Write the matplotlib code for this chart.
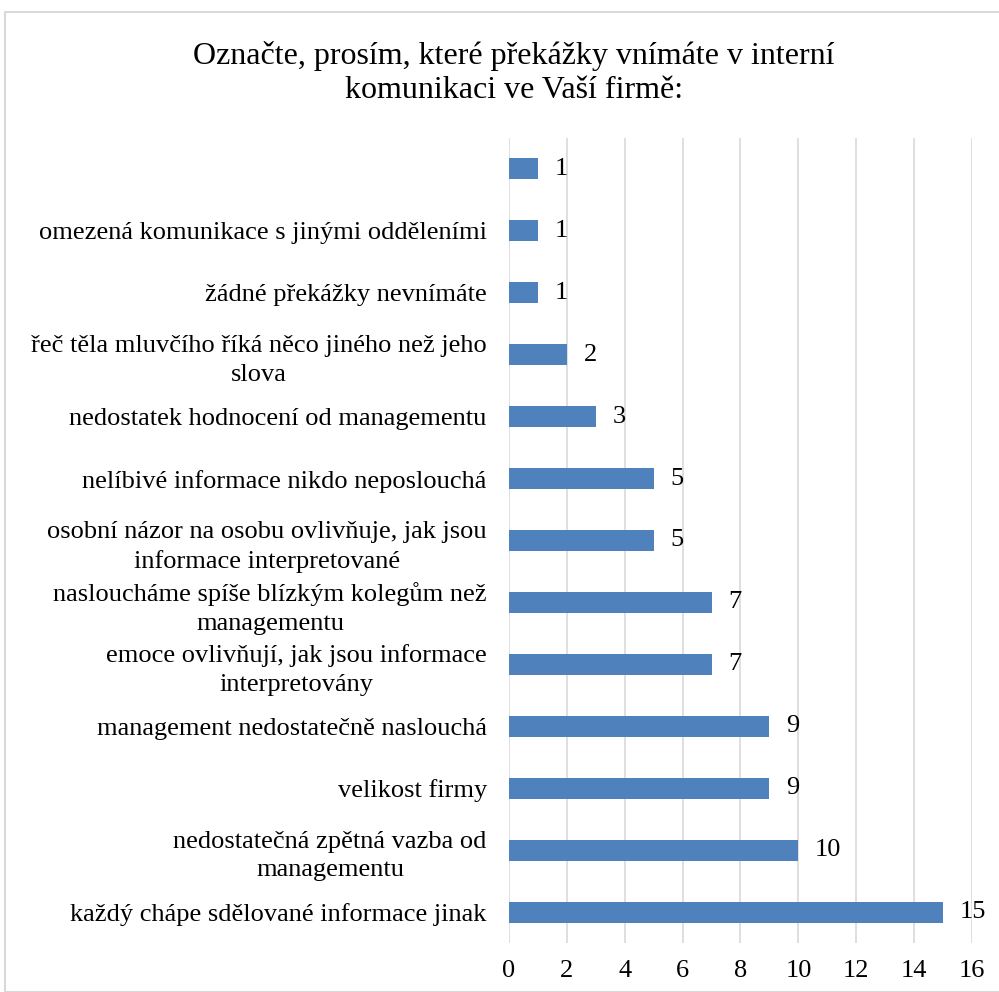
import matplotlib
matplotlib.use("Agg")
import matplotlib.pyplot as plt
from matplotlib.patches import Rectangle

categories = [
    "každý chápe sdělované informace jinak",
    "nedostatečná zpětná vazba od\nmanagementu",
    "velikost firmy",
    "management nedostatečně naslouchá",
    "emoce ovlivňují, jak jsou informace\ninterpretovány",
    "nasloucháme spíše blízkým kolegům než\nmanagementu",
    "osobní názor na osobu ovlivňuje, jak jsou\ninformace interpretované",
    "nelíbivé informace nikdo neposlouchá",
    "nedostatek hodnocení od managementu",
    "řeč těla mluvčího říká něco jiného než jeho\nslova",
    "žádné překážky nevnímáte",
    "omezená komunikace s jinými odděleními",
    "",
]
values = [15, 10, 9, 9, 7, 7, 5, 5, 3, 2, 1, 1, 1]
xticks = [0, 2, 4, 6, 8, 10, 12, 14, 16]

plt.rcParams['font.family'] = ['Liberation Serif', 'DejaVu Serif']

fig = plt.figure(figsize=(9.99, 9.92), dpi=100)
fig.patches.append(Rectangle((5/999, 0), 1, 1 - 12/992, transform=fig.transFigure,
                             fill=False, edgecolor='#d9d9d9', linewidth=1.5))
ax = fig.add_axes([509/999, 1 - 943/992, (972 - 509)/999, (943 - 138)/992])

ypos = list(range(len(categories)))
ax.barh(ypos, values, height=0.34, color='#4F81BD', zorder=3)
ax.set_yticks(ypos)
ax.set_yticklabels(categories, fontsize=19, multialignment='center', linespacing=1.4)
ax.set_ylim(-0.5, len(categories) - 0.5)
ax.set_xlim(0, 16)
ax.set_xticks(xticks)
ax.set_xticklabels([str(t) for t in xticks], fontsize=19)
ax.tick_params(axis='both', length=0)
ax.tick_params(axis='y', pad=16)
ax.tick_params(axis='x', pad=12)
ax.grid(axis='x', color='#d9d9d9', linewidth=1.2, zorder=0)
for s in ax.spines.values():
    s.set_visible(False)
for y, v in zip(ypos, values):
    ax.annotate(str(v), (v, y), xytext=(12, 0), textcoords='offset points',
                va='center', ha='left', fontsize=19)

fig.text(514/999, 1 - 73/992, "Označte, prosím, které překážky vnímáte v interní\nkomunikaci ve Vaší firmě:",
         ha='center', va='center', fontsize=23, linespacing=1.2)

fig.savefig("out.png", dpi=100)
